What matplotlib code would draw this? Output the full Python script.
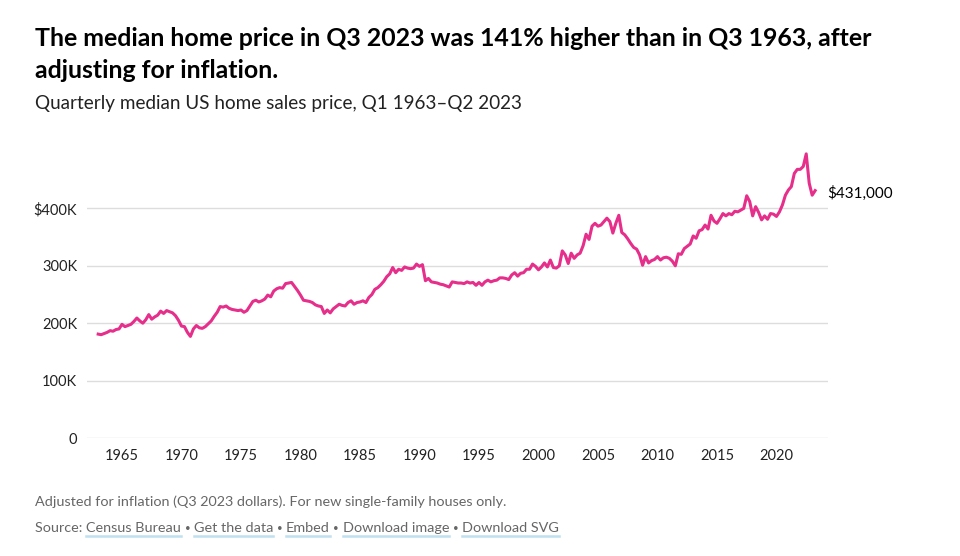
import numpy as np
import matplotlib.pyplot as plt

plt.rcParams['font.family'] = ['Lato', 'DejaVu Sans']

# quarterly median new home price, thousands of Q3 2023 dollars, Q1 1963 - Q2 2023
by_year = {
    1963: [181, 180, 182, 184], 1964: [187, 186, 189, 190],
    1965: [198, 194, 196, 198], 1966: [203, 209, 204, 200],
    1967: [206, 215, 207, 211], 1968: [214, 221, 217, 222],
    1969: [220, 218, 213, 205], 1970: [195, 194, 184, 177],
    1971: [190, 196, 192, 191], 1972: [194, 199, 204, 212],
    1973: [219, 229, 228, 230], 1974: [226, 224, 223, 222],
    1975: [223, 219, 222, 230], 1976: [238, 240, 237, 239],
    1977: [242, 249, 246, 256], 1978: [260, 262, 261, 269],
    1979: [270, 271, 264, 257], 1980: [249, 240, 239, 238],
    1981: [236, 232, 230, 229], 1982: [217, 223, 218, 225],
    1983: [229, 233, 231, 230], 1984: [236, 239, 233, 236],
    1985: [237, 239, 236, 245], 1986: [250, 259, 262, 267],
    1987: [273, 281, 286, 297], 1988: [288, 294, 292, 298],
    1989: [296, 295, 296, 303], 1990: [299, 302, 274, 278],
    1991: [272, 271, 270, 268], 1992: [267, 265, 263, 272],
    1993: [271, 270, 270, 269], 1994: [272, 270, 271, 266],
    1995: [271, 266, 272, 275], 1996: [272, 274, 275, 279],
    1997: [279, 278, 276, 284], 1998: [288, 282, 287, 288],
    1999: [294, 294, 303, 299], 2000: [293, 298, 305, 298],
    2001: [310, 297, 296, 300], 2002: [326, 319, 304, 322],
    2003: [313, 319, 322, 335], 2004: [355, 346, 369, 374],
    2005: [369, 371, 377, 383], 2006: [377, 357, 374, 388],
    2007: [358, 354, 347, 339], 2008: [332, 329, 319, 301],
    2009: [316, 305, 309, 311], 2010: [316, 310, 314, 315],
    2011: [313, 308, 300, 321], 2012: [320, 330, 334, 338],
    2013: [352, 348, 361, 363], 2014: [371, 364, 388, 378],
    2015: [374, 382, 391, 387], 2016: [391, 389, 395, 394],
    2017: [397, 400, 422, 412], 2018: [387, 403, 393, 380],
    2019: [387, 381, 391, 390], 2020: [386, 394, 406, 423],
    2021: [432, 438, 461, 468], 2022: [468, 473, 495, 444],
    2023: [423, 431],
}

years = []
prices = []
for yr, vals in by_year.items():
    for q, v in enumerate(vals):
        years.append(yr + q / 4)
        prices.append(v * 1000)
years = np.array(years)
prices = np.array(prices)

ytick_vals = [0, 100000, 200000, 300000, 400000]
ytick_labels = ['0', '100K', '200K', '300K', '$400K']
xtick_vals = list(range(1965, 2021, 5))

pink = '#E62E8B'

fig = plt.figure(figsize=(9.6, 5.56), dpi=100)
ax = fig.add_axes([87 / 960, 1 - 438 / 556, (828 - 87) / 960, (438 - 151) / 556])

ax.plot(years, prices, color=pink, lw=2.2, clip_on=False, zorder=3)
ax.annotate('$431,000', xy=(years[-1], prices[-1]), xytext=(9, -2),
            textcoords='offset points', ha='left', va='center', fontsize=11)

ax.set_xlim(1962.06, 2024.33)
ax.set_ylim(0, 500000)
ax.set_yticks(ytick_vals)
ax.set_yticklabels(ytick_labels)
ax.set_xticks(xtick_vals)
ax.tick_params(length=0, labelsize=10.5, colors='#222222')
ax.tick_params(axis='y', pad=7)
ax.tick_params(axis='x', pad=8)
ax.grid(axis='y', color='#dddddd', lw=1)
ax.set_axisbelow(True)
for s in ax.spines.values():
    s.set_visible(False)

fig.text(35 / 960, 1 - 39 / 556, 'The median home price in Q3 2023 was 141% higher than in Q3 1963, after',
         fontsize=17.9, fontweight='bold', va='center', ha='left')
fig.text(35 / 960, 1 - 71 / 556, 'adjusting for inflation.',
         fontsize=17.9, fontweight='bold', va='center', ha='left')
fig.text(35 / 960, 1 - 103 / 556, 'Quarterly median US home sales price, Q1 1963\u2013Q2 2023',
         fontsize=13.6, va='center', ha='left', color='#222222')
fig.text(35 / 960, 1 - 502 / 556,
         'Adjusted for inflation (Q3 2023 dollars). For new single-family houses only.',
         fontsize=10.35, va='center', ha='left', color='#666666')

# source line with underlined links
links = ['Census Bureau', 'Get the data', 'Embed', 'Download image', 'Download SVG']
parts = [('Source: ', 10.35, False)]
for i, name in enumerate(links):
    if i > 0:
        parts += [(' ', 10.35, False), ('\u2022', 7, False), (' ', 10.35, False)]
    parts.append((name, 10.35, True))

fig.canvas.draw()
renderer = fig.canvas.get_renderer()
x = 35
y = 528
for txt, size, link in parts:
    t = fig.text(x / 960, 1 - y / 556, txt, fontsize=size, va='center', ha='left',
                 color='#666666')
    bb = t.get_window_extent(renderer)
    if link:
        uy = bb.y0 - 2
        fig.add_artist(plt.Line2D([bb.x0 / 960, bb.x1 / 960], [uy / 556, uy / 556],
                                  color='#bfe0f0', lw=1.8))
    x = bb.x1

fig.savefig('out.png', dpi=100)
